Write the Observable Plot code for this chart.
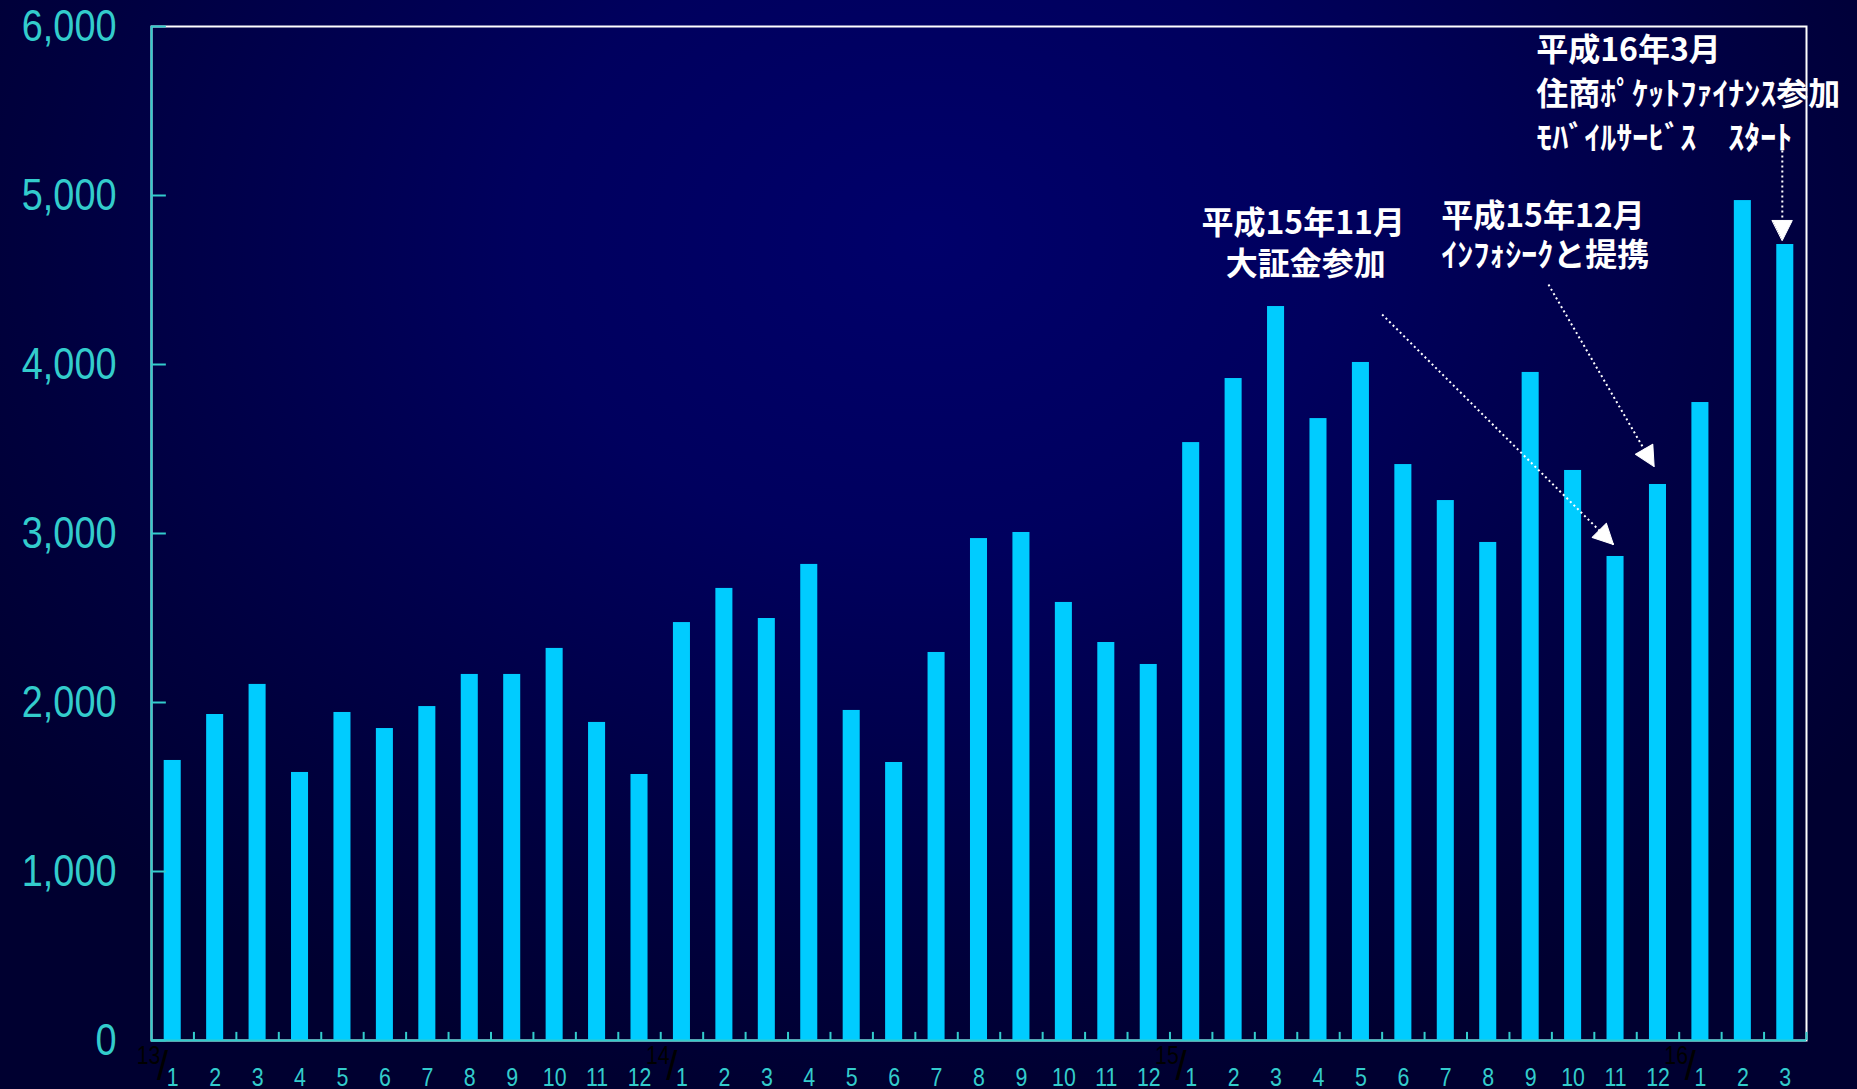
<!DOCTYPE html>
<html>
<head>
<meta charset="utf-8">
<script src="https://cdn.jsdelivr.net/npm/d3@7"></script>
<script src="https://cdn.jsdelivr.net/npm/@observablehq/plot@0.6"></script>
<style>
html, body { margin: 0; padding: 0; width: 1857px; height: 1089px; overflow: hidden; }
body { background: radial-gradient(ellipse 62% 80% at 50% 22%, #00006a 0%, #00005e 35%, #00003e 78%, #000030 100%); }
#chart svg { display: block; }
</style>
</head>
<body>
<div id="chart"></div>
<script>
// ---- data ----
const yearLabels = ["13", "14", "15", "16"];
const monthsPerYear = [12, 12, 12, 3];
const monthLabels = [
  "1","2","3","4","5","6","7","8","9","10","11","12",
  "1","2","3","4","5","6","7","8","9","10","11","12",
  "1","2","3","4","5","6","7","8","9","10","11","12",
  "1","2","3"
];
const values = [
  1657, 1929, 2107, 1586, 1941, 1846, 1976, 2166, 2166, 2320, 1882, 1574,
  2473, 2675, 2497, 2817, 1953, 1645, 2296, 2970, 3006, 2592, 2355, 2225,
  3538, 3917, 4343, 3680, 4012, 3408, 3195, 2947, 3953, 3373, 2864, 3290,
  3775, 4970, 4710
];
const yTicks = [0, 1000, 2000, 3000, 4000, 5000, 6000];

// annotation texts (positions in chart units: bar index, count)
const annotationLines = [
  {x: 27.14, y: 4834, text: "平成15年11月", anchor: "middle"},
  {x: 27.20, y: 4592, text: "大証金参加", anchor: "middle"},
  {x: 30.39, y: 4876, text: "平成15年12月", anchor: "start"},
  {x: 30.39, y: 4645, text: "ｲﾝﾌｫｼｰｸと提携", anchor: "start"},
  {x: 32.63, y: 5858, text: "平成16年3月", anchor: "start"},
  {x: 32.63, y: 5598, text: "住商ﾎﾟｹｯﾄﾌｧｲﾅﾝｽ参加", anchor: "start"},
  {x: 32.63, y: 5337, text: "ﾓﾊﾞｲﾙｻｰﾋﾞｽ　ｽﾀｰﾄ", anchor: "start"}
];
const arrows = [
  {x1: 29.00, y1: 4296, x2: 34.45, y2: 2935, angle: 135},
  {x1: 32.92, y1: 4473, x2: 35.41, y2: 3396, angle: 150},
  {x1: 38.43, y1: 5266, x2: 38.43, y2: 4734, angle: 180}
];
const unitNote = "（単位：件）";

// ---- build tables ----
const rows = values.map((v, i) => ({i, month: monthLabels[i], value: v}));
const yearStarts = [];
{
  let s = 0;
  yearLabels.forEach((y, k) => { yearStarts.push({year: y, start: s}); s += monthsPerYear[k]; });
}
const nBars = values.length;

const teal = "#33cccc";
const barColor = "#00ccff";
const sans = "'Liberation Sans', Arial, sans-serif";
const jp = "'Noto Sans CJK JP', sans-serif";

const triangle = {
  draw(context, l) {
    const w = l * 0.5;
    context.moveTo(0, -l);
    context.lineTo(-w, 0);
    context.lineTo(w, 0);
    context.closePath();
  }
};

const annotMiddle = annotationLines.filter(d => d.anchor === "middle");
const annotStart = annotationLines.filter(d => d.anchor === "start");

const chart = Plot.plot({
  width: 1857,
  height: 1089,
  marginLeft: 151,
  marginRight: 51,
  marginTop: 26,
  marginBottom: 49,
  style: {background: "transparent", overflow: "visible"},
  x: {domain: [0, nBars], axis: null},
  y: {domain: [0, 6000], axis: null},
  marks: [
    Plot.frame({stroke: "white", strokeWidth: 2}),
    Plot.rectY(rows, {x1: "i", x2: d => d.i + 1, y: "value", insetLeft: 12.7, insetRight: 12.7, fill: barColor}),
    // axis lines
    Plot.ruleX([0], {y1: 0, y2: 6000, stroke: teal, strokeWidth: 2}),
    Plot.ruleY([0], {x1: 0, x2: nBars, stroke: teal, strokeWidth: 2}),
    // y ticks (inward)
    Plot.ruleY(yTicks, {y: d => d, x1: 0, x2: 0.35, stroke: teal, strokeWidth: 2}),
    // x ticks at category boundaries (inward)
    Plot.ruleX(rows, {x: d => d.i + 1, y1: 0, y2: 48, stroke: teal, strokeWidth: 2}),
    // y labels
    Plot.text(yTicks, {x: 0, y: d => d, dx: -35, textAnchor: "end", text: d => d3.format(",")(d),
      fill: teal, fontSize: 44, fontFamily: sans}),
    // month labels
    Plot.text(rows, {x: d => d.i + 0.5, y: 0, dy: 37, text: "month", fill: teal, fontSize: 26, fontFamily: sans}),
    // year labels (black)
    Plot.text(yearStarts, {x: "start", y: 0, dx: -3, dy: 15, text: "year", fill: "black", fontSize: 26, fontFamily: sans}),
    Plot.text(yearStarts, {x: "start", y: 0, dx: 11, dy: 27, text: () => "/", fill: "black", fontSize: 40, fontFamily: sans}),
    // annotations
    Plot.link(arrows, {x1: "x1", y1: "y1", x2: "x2", y2: "y2", stroke: "white", strokeWidth: 2, strokeDasharray: "2,3"}),
    Plot.vector(arrows, {x: "x2", y: "y2", rotate: "angle", length: 20, anchor: "end", shape: triangle, fill: "white", stroke: "white", strokeWidth: 1}),
    Plot.text(annotMiddle, {x: "x", y: "y", text: "text", textAnchor: "middle", fill: "white",
      fontWeight: "bold", fontSize: 32, fontFamily: jp}),
    Plot.text(annotStart, {x: "x", y: "y", text: "text", textAnchor: "start", fill: "white",
      fontWeight: "bold", fontSize: 32, fontFamily: jp}),
    Plot.text([unitNote], {x: 37.87, y: 6000, dy: -45, text: d => d, fill: "white", fontSize: 36, fontFamily: jp})
  ]
});
document.getElementById("chart").appendChild(chart);

// condense the Arial-like labels horizontally (the original uses a narrow face)
const squeeze = {"44px": 0.86, "26px": 0.82};
chart.querySelectorAll("text").forEach(el => {
  const s = squeeze[getComputedStyle(el).fontSize];
  if (!s) return;
  const len = el.getComputedTextLength();
  if (!(len > 0)) return;
  el.setAttribute("textLength", (len * s).toFixed(1));
  el.setAttribute("lengthAdjust", "spacingAndGlyphs");
});
</script>
</body>
</html>
